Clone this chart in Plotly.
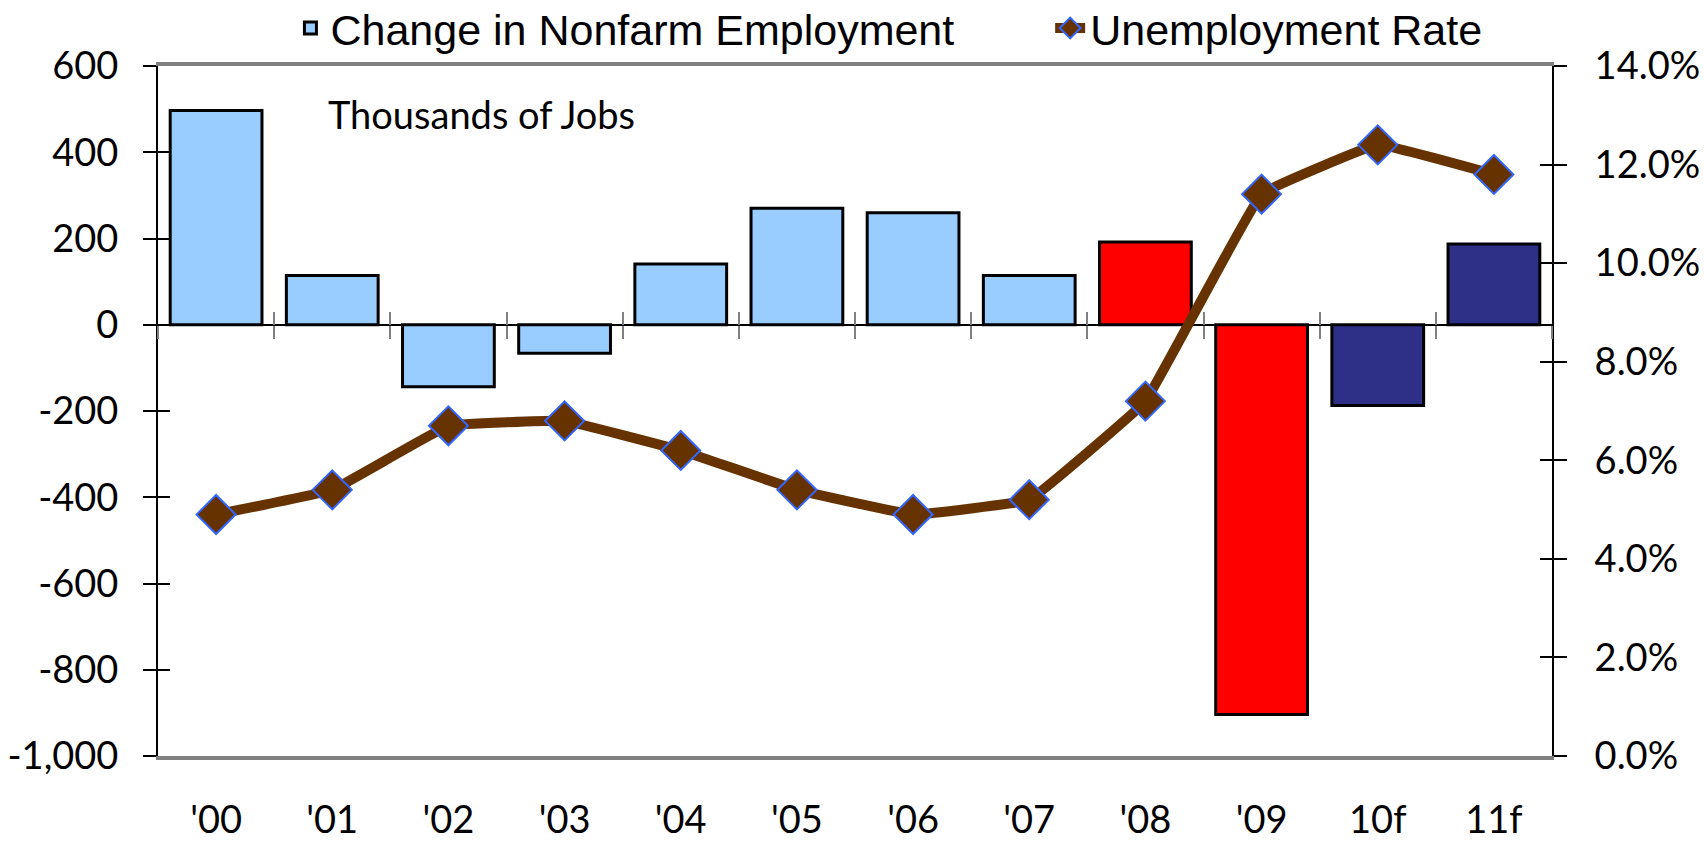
import plotly.graph_objects as go

years = ["'00", "'01", "'02", "'03", "'04", "'05", "'06", "'07", "'08", "'09", "10f", "11f"]
job_change = [497, 114, -144, -66, 141, 270, 260, 114, 192, -904, -187, 187]
unemployment = [4.9, 5.4, 6.7, 6.8, 6.2, 5.4, 4.9, 5.2, 7.2, 11.4, 12.4, 11.8]
bar_colors = ["#99CCFF"] * 8 + ["#FF0000"] * 2 + ["#2E3087"] * 2

jobs_ticks = [-1000, -800, -600, -400, -200, 0, 200, 400, 600]
jobs_tick_text = ["-1,000", "-800", "-600", "-400", "-200", "0", "200", "400", "600"]

tick_font = dict(family="Lato, Calibri, sans-serif", size=38, color="black")
legend_font = dict(family="Liberation Sans, Arial, sans-serif", size=43, color="black")

cat_range = [-0.5, len(years) - 0.5]

fig = go.Figure()

fig.add_trace(go.Bar(
    x=years,
    y=job_change,
    name="Change in Nonfarm Employment",
    marker=dict(color=bar_colors, line=dict(color="black", width=3)),
    legend="legend",
))

fig.add_trace(go.Scatter(
    x=years,
    y=unemployment,
    name="Unemployment Rate",
    yaxis="y2",
    mode="lines+markers",
    line=dict(color="#663300", width=10, shape="spline", smoothing=0.2),
    marker=dict(symbol="diamond", size=30, color="#663300",
                line=dict(color="#3366FF", width=2)),
    legend="legend2",
))

# invisible helpers so the extra tick axes get drawn
fig.add_trace(go.Scatter(x=years, y=job_change, mode="none", xaxis="x2",
                         showlegend=False, hoverinfo="skip"))
fig.add_trace(go.Scatter(x=years, y=job_change, mode="none", xaxis="x3",
                         showlegend=False, hoverinfo="skip"))
fig.add_trace(go.Scatter(x=years, y=job_change, mode="none", yaxis="y3",
                         showlegend=False, hoverinfo="skip"))
fig.add_trace(go.Scatter(x=years, y=unemployment, mode="none", yaxis="y4",
                         showlegend=False, hoverinfo="skip"))

fig.update_layout(
    width=1704,
    height=841,
    margin=dict(l=158, r=152, t=66, b=85, autoexpand=False),
    plot_bgcolor="white",
    paper_bgcolor="white",
    bargap=0.21,
    showlegend=True,
    legend=dict(
        orientation="h",
        x=0.095, xanchor="left",
        y=1.055, yanchor="middle",
        font=legend_font,
        bgcolor="rgba(0,0,0,0)",
    ),
    legend2=dict(
        orientation="h",
        x=0.64, xanchor="left",
        y=1.055, yanchor="middle",
        font=legend_font,
        bgcolor="rgba(0,0,0,0)",
    ),
    xaxis=dict(
        type="category", range=cat_range,
        showline=True, linecolor="#808080", linewidth=4, mirror=True,
        ticks="", showgrid=False,
        tickfont=tick_font,
        ticklabelstandoff=27,
    ),
    xaxis2=dict(
        overlaying="x", matches="x", anchor="free", position=0.625,
        ticks="outside", tickson="boundaries", ticklen=13, tickcolor="#808080",
        tickwidth=2, showticklabels=False, showline=False, showgrid=False,
    ),
    xaxis3=dict(
        overlaying="x", matches="x", anchor="free", position=0.625,
        ticks="inside", tickson="boundaries", ticklen=13, tickcolor="#808080",
        tickwidth=2, showticklabels=False, showline=False, showgrid=False,
    ),
    yaxis=dict(
        range=[-1000, 600],
        tickvals=jobs_ticks, ticktext=jobs_tick_text,
        showline=True, linecolor="black", linewidth=2,
        ticks="outside", ticklen=13, tickcolor="black", tickwidth=1.5,
        showgrid=False,
        zeroline=True, zerolinecolor="black", zerolinewidth=1.5,
        tickfont=tick_font,
        ticklabelstandoff=17,
    ),
    yaxis2=dict(
        overlaying="y", side="right",
        range=[0, 14], dtick=2, tickformat=".1f", ticksuffix="%",
        showline=True, linecolor="black", linewidth=2,
        ticks="outside", ticklen=13, tickcolor="black", tickwidth=1.5,
        showgrid=False, zeroline=False,
        tickfont=tick_font,
        ticklabelstandoff=20,
    ),
    yaxis3=dict(
        overlaying="y", matches="y", side="left",
        ticks="inside", ticklen=12, tickcolor="black", tickwidth=1.5,
        showticklabels=False, showline=False, showgrid=False, zeroline=False,
    ),
    yaxis4=dict(
        overlaying="y", side="right", range=[0, 14], dtick=2,
        ticks="inside", ticklen=12, tickcolor="black", tickwidth=1.5,
        showticklabels=False, showline=False, showgrid=False, zeroline=False,
    ),
    annotations=[dict(
        text="Thousands of Jobs",
        xref="paper", yref="paper",
        x=0.232, y=0.93, xanchor="center", yanchor="middle",
        showarrow=False,
        font=dict(family="Lato, Calibri, sans-serif", size=38, color="black"),
    )],
)

# drop the browser's default page margin so the figure sits at 0,0
fig.write_html("out.html", config={"displayModeBar": False},
               post_script="document.body.style.margin='0';")
